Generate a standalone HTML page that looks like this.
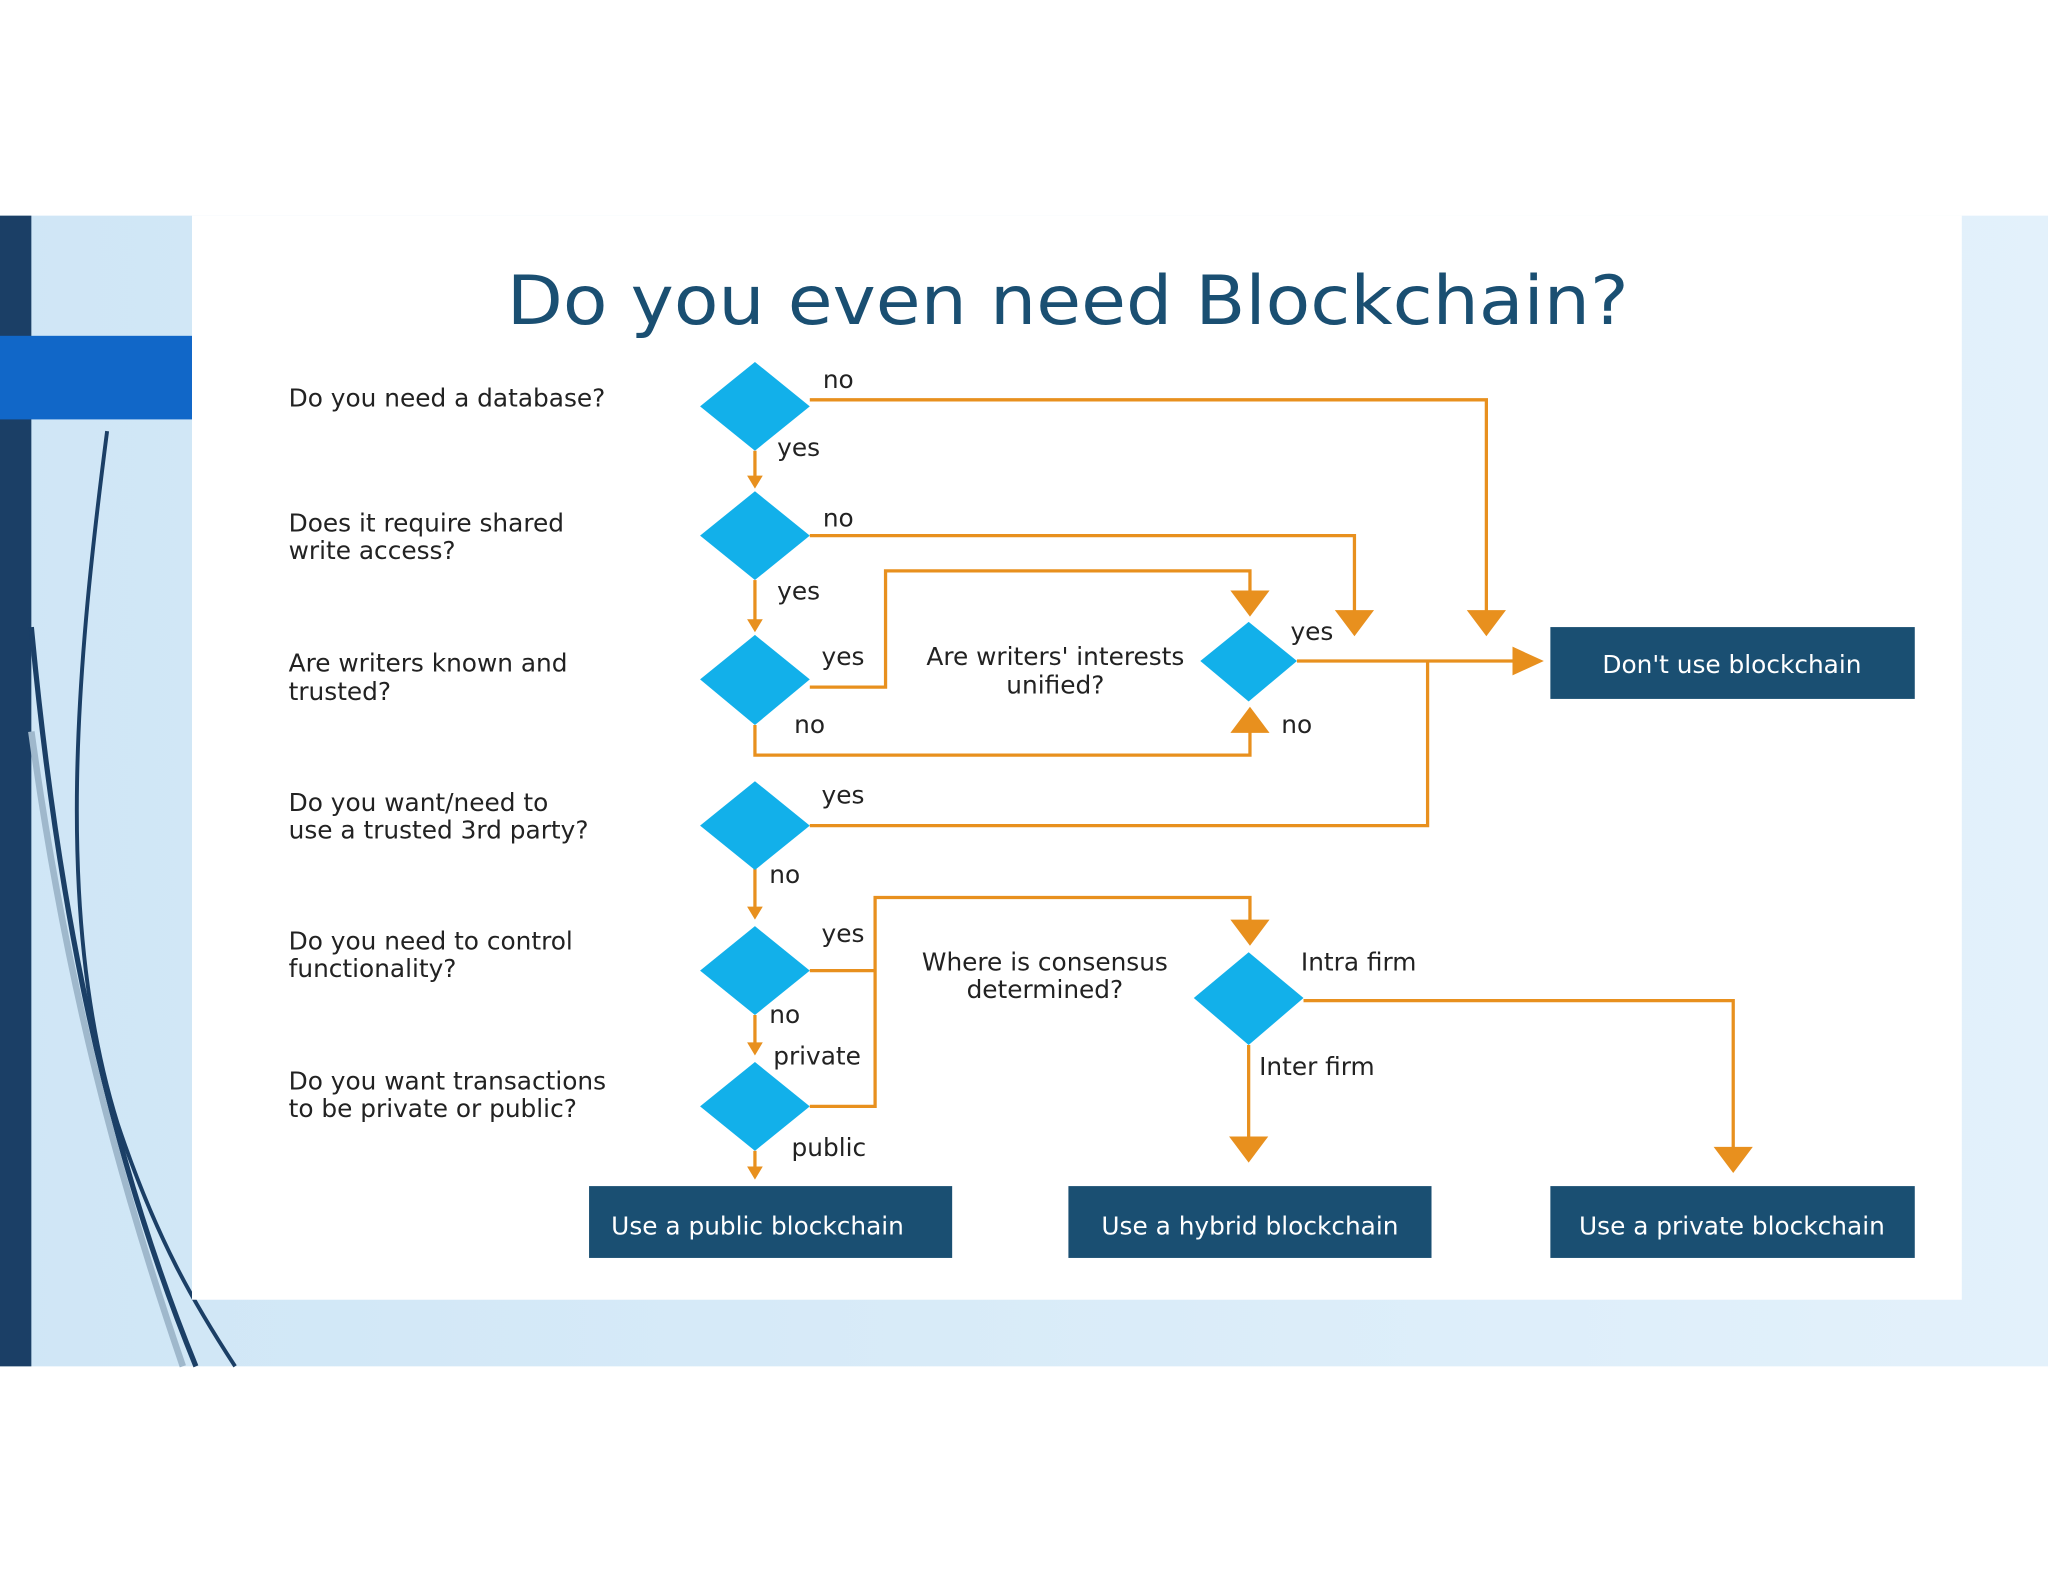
<!DOCTYPE html>
<html><head><meta charset="utf-8"><style>
html,body{margin:0;padding:0;background:#fff;}
svg{display:block;}
text{font-family:"DejaVu Sans","Liberation Sans",sans-serif;}
</style></head><body>
<svg width="2048" height="1582" viewBox="0 0 1568 1211" xmlns="http://www.w3.org/2000/svg">
<defs>
<linearGradient id="bg" x1="0" y1="0" x2="1" y2="0">
<stop offset="0" stop-color="#cfe6f6"/><stop offset="1" stop-color="#e3f1fb"/>
</linearGradient>
</defs>
<rect x="0" y="0" width="1568" height="1211" fill="#fff"/>
<rect x="0" y="165" width="1568" height="881" fill="url(#bg)"/>
<rect x="0" y="165" width="24" height="881" fill="#1b3f66"/>
<rect x="0" y="257" width="147" height="64" fill="#1167c8"/>
<path d="M82 330 C60 500 40 700 90 860 C120 950 150 1000 180 1046" stroke="#1b3f66" stroke-width="3" fill="none"/>
<path d="M24 480 C40 650 70 850 150 1046" stroke="#1b3f66" stroke-width="4" fill="none"/>
<path d="M24 560 C50 750 90 900 140 1046" stroke="#9fb8cc" stroke-width="5" fill="none"/>
<rect x="147" y="165" width="1355" height="830" fill="#fff"/>
<text x="388" y="248" font-size="52" fill="#1a4f72" textLength="859" lengthAdjust="spacingAndGlyphs">Do you even need Blockchain?</text>
<g font-size="19" fill="#222">
<text x="221" y="311">Do you need a database?</text>
<text x="221" y="407">Does it require shared</text><text x="221" y="428">write access?</text>
<text x="221" y="514">Are writers known and</text><text x="221" y="536">trusted?</text>
<text x="221" y="621">Do you want/need to</text><text x="221" y="642">use a trusted 3rd party?</text>
<text x="221" y="727">Do you need to control</text><text x="221" y="748">functionality?</text>
<text x="221" y="834">Do you want transactions</text><text x="221" y="855">to be private or public?</text>
<text x="808" y="509" text-anchor="middle">Are writers' interests</text><text x="808" y="531" text-anchor="middle">unified?</text>
<text x="800" y="743" text-anchor="middle">Where is consensus</text><text x="800" y="764" text-anchor="middle">determined?</text>
<text x="630" y="297">no</text><text x="595" y="349">yes</text>
<text x="630" y="403">no</text><text x="595" y="459">yes</text>
<text x="629" y="509">yes</text><text x="608" y="561">no</text>
<text x="988" y="490">yes</text><text x="981" y="561">no</text>
<text x="629" y="615">yes</text><text x="589" y="676">no</text>
<text x="629" y="721">yes</text><text x="589" y="783">no</text>
<text x="592" y="815">private</text><text x="606" y="885">public</text>
<text x="996" y="743">Intra firm</text><text x="964" y="823">Inter firm</text>
</g>
<g stroke="#e8901e" stroke-width="2.5" fill="none">
<polyline points="620,306 1138,306 1138,470"/>
<polyline points="620,410 1037,410 1037,470"/>
<polyline points="578,345 578,366"/>
<polyline points="578,444 578,476"/>
<polyline points="620,526 678,526 678,437 957,437 957,455"/>
<polyline points="578,555 578,578 957,578 957,560"/>
<polyline points="993,506 1160,506"/>
<polyline points="620,632 1093,632 1093,506"/>
<polyline points="578,665 578,696"/>
<polyline points="620,743 670,743"/>
<polyline points="620,847 670,847 670,687 957,687 957,707"/>
<polyline points="578,777 578,800"/>
<polyline points="578,881 578,895"/>
<polyline points="998,766 1327,766 1327,880"/>
<polyline points="956,800 956,872"/>
</g>
<g fill="#e8901e">
<polygon points="572,364 584,364 578,374"/>
<polygon points="572,474 584,474 578,484"/>
<polygon points="572,694 584,694 578,704"/>
<polygon points="572,798 584,798 578,808"/>
<polygon points="572,893 584,893 578,903"/>
<polygon points="1123,467 1153,467 1138,487"/>
<polygon points="1022,467 1052,467 1037,487"/>
<polygon points="942,452 972,452 957,472"/>
<polygon points="942,561 972,561 957,541"/>
<polygon points="1158,495 1158,517 1182,506"/>
<polygon points="942,704 972,704 957,724"/>
<polygon points="941,870 971,870 956,890"/>
<polygon points="1312,878 1342,878 1327,898"/>
</g>
<g fill="#12b0ea">
<polygon points="578,277 620,311 578,345 536,311"/>
<polygon points="578,376 620,410 578,444 536,410"/>
<polygon points="578,486 620,520 578,555 536,520"/>
<polygon points="578,598 620,632 578,666 536,632"/>
<polygon points="578,709 620,743 578,777 536,743"/>
<polygon points="578,813 620,847 578,881 536,847"/>
<polygon points="956,476 993,506 956,537 919,506"/>
<polygon points="956,729 998,764 956,800 914,764"/>
</g>
<g fill="#1a4f72">
<rect x="1187" y="480" width="279" height="55"/>
<rect x="451" y="908" width="278" height="55"/>
<rect x="818" y="908" width="278" height="55"/>
<rect x="1187" y="908" width="279" height="55"/>
</g>
<g font-size="19" fill="#fff" text-anchor="middle">
<text x="1326" y="515">Don't use blockchain</text>
<text x="580" y="945">Use a public blockchain</text>
<text x="957" y="945">Use a hybrid blockchain</text>
<text x="1326" y="945">Use a private blockchain</text>
</g>
</svg>
</body></html>
